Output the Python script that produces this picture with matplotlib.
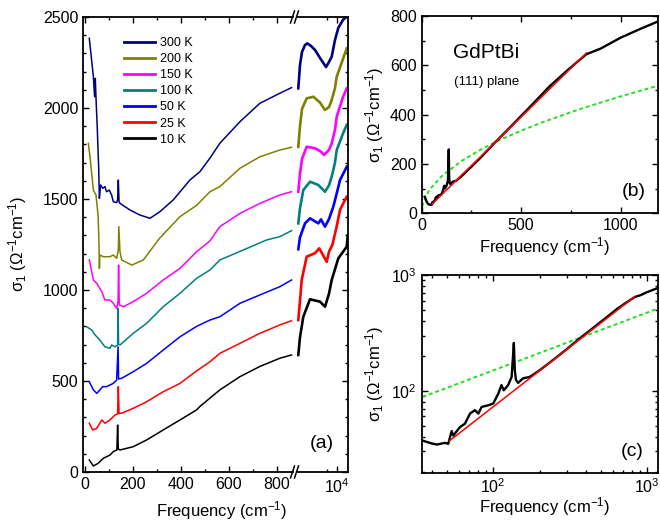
import matplotlib.pyplot as plt
from matplotlib.lines import Line2D
from matplotlib.ticker import MultipleLocator, FixedLocator, NullFormatter, LogLocator

plt.rcParams['font.family'] = ['Liberation Sans', 'DejaVu Sans']
plt.rcParams['mathtext.fontset'] = 'custom'
plt.rcParams['mathtext.rm'] = 'Liberation Sans'
plt.rcParams['mathtext.it'] = 'Liberation Sans:italic'
plt.rcParams['mathtext.bf'] = 'Liberation Sans:bold'
plt.rcParams['xtick.direction'] = 'in'
plt.rcParams['ytick.direction'] = 'in'

W, H = 660, 523

# ---- panel (a): sigma_1 at several temperatures (offset curves as drawn) ----
temps = ["300 K", "200 K", "150 K", "100 K", "50 K", "25 K", "10 K"]
colors = ["#000080", "#808000", "#ff00ff", "#008080", "#0000ff", "#ff0000", "#000000"]

# far-infrared part (linear frequency axis, cm^-1)
w_300K = [18, 35, 40, 43, 46, 51, 57, 60, 65, 74, 83, 90, 101, 111, 118, 132, 136, 139, 142, 146,
          187, 229, 271, 312, 368, 437, 479, 521, 562, 646, 729, 812, 861]
s_300K = [2383, 2172, 2062, 2163, 2053, 1897, 1677, 1504, 1577, 1559, 1568, 1540, 1549, 1522, 1485,
          1480, 1495, 1604, 1483, 1476, 1440, 1412, 1394, 1430, 1495, 1604, 1650, 1725, 1806, 1925,
          2026, 2081, 2112]
w_200K = [14, 21, 35, 46, 55, 59, 60, 62, 76, 104, 118, 132, 139, 141, 146, 153, 195, 243, 312,
          396, 465, 521, 562, 646, 729, 812, 861]
s_200K = [1806, 1732, 1549, 1522, 1403, 1220, 1119, 1192, 1183, 1183, 1192, 1174, 1220, 1348, 1209,
          1165, 1137, 1165, 1286, 1403, 1465, 1540, 1568, 1669, 1732, 1769, 1784]
w_150K = [18, 35, 49, 70, 83, 104, 118, 132, 138, 140, 143, 160, 201, 257, 326, 396, 465, 521,
          562, 646, 729, 812, 861]
s_150K = [1165, 1055, 1037, 991, 945, 945, 927, 899, 940, 1137, 918, 908, 936, 982, 1055, 1119,
          1210, 1270, 1348, 1421, 1476, 1522, 1540]
w_100K = [7, 28, 42, 62, 83, 104, 111, 125, 136, 138, 140, 146, 201, 257, 326, 396, 465, 521, 562,
          660, 757, 812, 861]
s_100K = [798, 780, 753, 725, 688, 680, 698, 688, 698, 899, 703, 698, 762, 817, 908, 982, 1064, 1110,
          1165, 1220, 1275, 1293, 1326]
w_50K = [18, 35, 49, 62, 74, 90, 118, 132, 138, 140, 153, 201, 257, 326, 396, 465, 521, 562, 646,
         729, 812, 861]
s_50K = [496, 451, 432, 451, 469, 469, 487, 505, 688, 511, 515, 551, 597, 670, 743, 800, 835, 853,
         927, 973, 1018, 1055]
w_25K = [18, 32, 49, 70, 83, 104, 125, 136, 139, 142, 153, 201, 257, 326, 396, 465, 521, 562, 646,
         729, 812, 861]
s_25K = [268, 231, 240, 286, 268, 286, 313, 319, 469, 321, 323, 350, 386, 441, 487, 555, 606, 652,
         707, 762, 808, 831]
w_10K = [18, 35, 55, 76, 104, 118, 133, 136, 139, 146, 201, 257, 326, 396, 465, 479, 562, 646, 729,
         812, 861]
s_10K = [66, 33, 48, 75, 93, 112, 121, 258, 126, 121, 139, 176, 231, 286, 341, 360, 451, 524, 580,
         625, 643]

# near-infrared / visible part (log frequency axis after the break)
w_300K_hi = [4239, 4402, 4605, 4922, 5183, 5630, 6156, 6886, 7874, 8418, 8945, 9626, 10364, 11514,
             12510]
s_300K_hi = [2108, 2236, 2308, 2346, 2355, 2341, 2319, 2275, 2225, 2253, 2282, 2374, 2440, 2484,
             2502]
w_200K_hi = [4239, 4402, 4605, 5112, 5928, 6886, 7700, 8418, 8945, 9626, 10000, 11514, 12510]
s_200K_hi = [1787, 1900, 1995, 2053, 2062, 2030, 1989, 2005, 2044, 2110, 2172, 2270, 2328]
w_150K_hi = [4239, 4402, 4605, 5112, 6156, 7039, 7527, 8418, 8945, 9626, 10000, 11514, 12510]
s_150K_hi = [1540, 1640, 1720, 1787, 1779, 1760, 1742, 1770, 1806, 1880, 1952, 2060, 2108]
w_100K_hi = [4239, 4402, 4740, 5506, 6628, 7700, 8418, 8945, 9626, 10000, 11514, 12510]
s_100K_hi = [1366, 1450, 1549, 1595, 1577, 1540, 1575, 1623, 1700, 1769, 1860, 1907]
w_50K_hi = [4239, 4402, 4922, 5506, 6628, 7039, 7700, 8418, 9268, 10000, 10766, 12510]
s_50K_hi = [1224, 1290, 1366, 1394, 1366, 1388, 1348, 1390, 1458, 1530, 1604, 1677]
w_25K_hi = [4239, 4402, 4574, 5112, 6156, 6778, 7998, 8418, 9100, 10000, 10766, 12510]
s_25K_hi = [835, 940, 1055, 1183, 1202, 1229, 1155, 1210, 1250, 1350, 1440, 1513]
w_10K_hi = [4239, 4402, 4740, 5506, 6886, 7700, 8418, 8945, 10364, 12510, 12800]
s_10K_hi = [643, 740, 853, 949, 936, 908, 980, 1055, 1174, 1238, 1300]

# ---- panels (b), (c): 10 K spectrum with fits ----
w_fit = [15, 20, 25, 30, 35, 40, 43, 48.6, 51, 53.7, 55, 60.8, 65.5, 70.6, 76, 80, 84, 93, 100,
         108, 113, 117, 125, 131.6, 134, 136, 138, 140.4, 145, 156, 173, 201, 245, 299, 366, 446,
         545, 643, 740, 828, 900, 1000, 1100, 1200]
s_fit = [67, 58, 47, 40, 37, 35, 34.3, 35.5, 34.8, 44.9, 41, 48.6, 52, 63.5, 68, 63.5, 72.5, 75,
         77.6, 95, 112, 101, 112, 132, 190, 259, 150, 124, 117, 128, 132, 151, 185, 228, 285, 350,
         432, 515, 585, 645, 668, 712, 748, 782]
w_lin = [52, 828]
s_lin = [37, 650]
w_sqrt = [0, 2, 5, 10, 20, 35, 50, 100, 200, 300, 400, 500, 600, 800, 1000, 1200]
s_sqrt = [0, 21, 34, 47, 67, 89, 106, 150, 212, 260, 300, 335, 367, 424, 474, 520]

lo_data = [(w_300K, s_300K), (w_200K, s_200K), (w_150K, s_150K), (w_100K, s_100K),
           (w_50K, s_50K), (w_25K, s_25K), (w_10K, s_10K)]
hi_data = [(w_300K_hi, s_300K_hi), (w_200K_hi, s_200K_hi), (w_150K_hi, s_150K_hi),
           (w_100K_hi, s_100K_hi), (w_50K_hi, s_50K_hi), (w_25K_hi, s_25K_hi),
           (w_10K_hi, s_10K_hi)]


def box(x0, y0, x1, y1):
    """pixel box (top-left origin) -> figure rect"""
    return [x0 / W, 1 - y1 / H, (x1 - x0) / W, (y1 - y0) / H]


def ftext(px, py, s, **kw):
    fig.text(px / W, 1 - py / H, s, ha="center", va="center", **kw)


def style(ax):
    for sp in ax.spines.values():
        sp.set_linewidth(1.3)
    ax.tick_params(which="major", length=4.5, width=1.0, labelsize=11.5)
    ax.tick_params(which="minor", length=2.5, width=1.0)


fig = plt.figure(figsize=(W / 100, H / 100), dpi=100)

ylab = "σ$_1$ ($\\Omega^{-1}$cm$^{-1}$)"
xlab = "Frequency (cm$^{-1}$)"

# (a) left piece
ax_a = fig.add_axes(box(83.3, 17, 293, 472))
handles = []
for (w, s), c, t in zip(lo_data, colors, temps):
    ax_a.plot(w, s, color=c, lw=1.1)
    handles.append(Line2D([0], [0], color=c, lw=2.0, label=t))
ax_a.set_xlim(-7, 867)
ax_a.set_ylim(0, 2500)
ax_a.spines["right"].set_visible(False)
ax_a.xaxis.set_major_locator(MultipleLocator(200))
ax_a.xaxis.set_minor_locator(MultipleLocator(100))
ax_a.yaxis.set_major_locator(MultipleLocator(500))
ax_a.yaxis.set_minor_locator(MultipleLocator(100))
ax_a.tick_params(which="both", top=True, right=False)
style(ax_a)

# (a) right piece after the break
ax_a2 = fig.add_axes(box(297, 17, 348, 472))
for (w, s), c in zip(hi_data, colors):
    ax_a2.plot(w, s, color=c, lw=1.9)
ax_a2.set_xscale("log")
ax_a2.set_xlim(4118, 12873)
ax_a2.set_ylim(0, 2500)
ax_a2.spines["left"].set_visible(False)
ax_a2.xaxis.set_major_locator(FixedLocator([1e4]))
ax_a2.xaxis.set_minor_locator(FixedLocator([8000]))
ax_a2.xaxis.set_minor_formatter(NullFormatter())
ax_a2.set_xticklabels(["$10^4$"])
ax_a2.yaxis.set_major_locator(MultipleLocator(500))
ax_a2.yaxis.set_minor_locator(MultipleLocator(100))
ax_a2.tick_params(which="both", top=True, left=False, right=True, labelleft=False)
style(ax_a2)

# break marks
for yb in (17, 472):
    for xb in (290.5, 294.5):
        fig.add_artist(Line2D([xb / W, (xb + 4) / W], [1 - (yb + 6) / H, 1 - (yb - 6) / H],
                              color="black", lw=1.1))

fig.legend(handles=handles, loc="upper left", bbox_to_anchor=(124 / W, 1 - 37 / H),
           frameon=False, fontsize=9, borderpad=0, borderaxespad=0, labelspacing=0.33,
           handlelength=2.5, handletextpad=0.4)

ftext(322, 444, "(a)", fontsize=14)
ftext(18, 244, ylab, fontsize=12, rotation=90)
ftext(222, 511, xlab, fontsize=12)

# (b) linear scale
ax_b = fig.add_axes(box(421.7, 16, 658, 213.3))
ax_b.plot(w_sqrt, s_sqrt, color="#22e022", lw=1.4, ls=(0, (2, 1.5)), zorder=2)
ax_b.plot(w_fit, s_fit, color="black", lw=1.7, zorder=3)
ax_b.plot(w_lin, s_lin, color="red", lw=1.1, zorder=4)
ax_b.set_xlim(0, 1188)
ax_b.set_ylim(0, 800)
ax_b.xaxis.set_major_locator(MultipleLocator(500))
ax_b.xaxis.set_minor_locator(MultipleLocator(250))
ax_b.yaxis.set_major_locator(MultipleLocator(200))
ax_b.yaxis.set_minor_locator(MultipleLocator(100))
ax_b.tick_params(which="both", top=True, right=True)
style(ax_b)
ftext(486, 53, "GdPtBi", fontsize=15)
ftext(487, 82, "(111) plane", fontsize=9.5)
ftext(634, 191, "(b)", fontsize=14)
ftext(375, 115, ylab, fontsize=12, rotation=90)
ftext(545, 247, xlab, fontsize=12)

# (c) log-log scale
ax_c = fig.add_axes(box(421.7, 275, 657.7, 472.7))
ax_c.plot(w_sqrt[1:], s_sqrt[1:], color="#22e022", lw=1.4, ls=(0, (2, 1.5)), zorder=2)
ax_c.plot(w_fit, s_fit, color="black", lw=1.7, zorder=3)
ax_c.plot(w_lin, s_lin, color="red", lw=1.1, zorder=4)
ax_c.set_xscale("log")
ax_c.set_yscale("log")
ax_c.set_xlim(34.3, 1168)
ax_c.set_ylim(19.6, 1000)
for axis in (ax_c.xaxis, ax_c.yaxis):
    axis.set_major_locator(LogLocator(base=10))
    axis.set_minor_locator(LogLocator(base=10, subs=range(2, 10)))
    axis.set_minor_formatter(NullFormatter())
ax_c.tick_params(which="both", top=True, right=True)
style(ax_c)
ftext(632, 451, "(c)", fontsize=14)
ftext(375, 374, ylab, fontsize=12, rotation=90)
ftext(545, 507, xlab, fontsize=12)

fig.savefig("out.png", dpi=100)
